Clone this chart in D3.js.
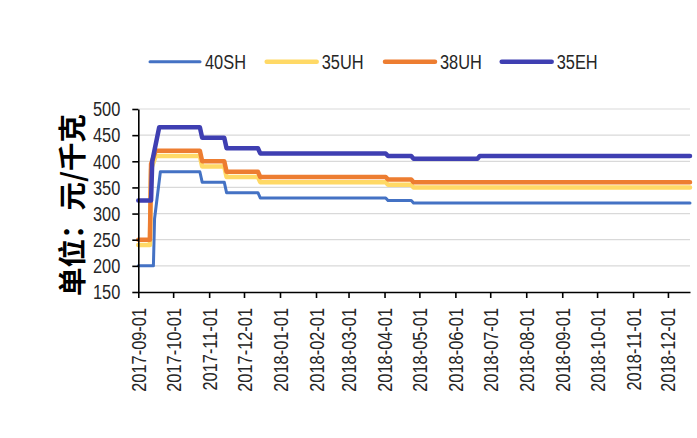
<!DOCTYPE html>
<html>
<head>
<meta charset="utf-8">
<script src="https://cdn.jsdelivr.net/npm/d3@7"></script>
<style>
  html, body { margin: 0; padding: 0; background: #fff; }
  svg { display: block; }
</style>
</head>
<body>
<svg id="chart" width="697" height="438"></svg>
<script>
// Series names, colours and stroke widths (legend order = draw order)
const seriesNames  = ["40SH", "35UH", "38UH", "35EH"];
const seriesColors = ["#4472C4", "#FFD966", "#ED7D31", "#3F3FB2"];
const seriesWidths = [3, 4.5, 4.5, 4.5];

// Price change points for each grade (元/千克)
const dates40SH = ["2017-09-01","2017-09-14","2017-09-15","2017-09-20","2017-10-24","2017-10-26","2017-11-14","2017-11-16","2017-12-13","2017-12-15","2018-04-02","2018-04-04","2018-04-24","2018-04-26","2018-12-20"];
const values40SH = [200, 200, 290, 380, 380, 360, 360, 340, 340, 330, 330, 325, 325, 320, 320];

const dates35UH = ["2017-09-01","2017-09-11","2017-09-12","2017-09-16","2017-10-24","2017-10-26","2017-11-14","2017-11-16","2017-12-13","2017-12-15","2018-04-02","2018-04-04","2018-04-24","2018-04-26","2018-12-20"];
const values35UH = [240, 240, 385, 410, 410, 390, 390, 370, 370, 360, 360, 355, 355, 350, 350];

const dates38UH = ["2017-09-01","2017-09-11","2017-09-12","2017-09-16","2017-10-24","2017-10-26","2017-11-14","2017-11-16","2017-12-13","2017-12-15","2018-04-02","2018-04-04","2018-04-24","2018-04-26","2018-12-20"];
const values38UH = [250, 250, 395, 420, 420, 400, 400, 380, 380, 370, 370, 365, 365, 360, 360];

const dates35EH = ["2017-09-01","2017-09-12","2017-09-13","2017-09-19","2017-10-24","2017-10-26","2017-11-14","2017-11-16","2017-12-13","2017-12-15","2018-04-02","2018-04-04","2018-04-24","2018-04-26","2018-06-20","2018-06-22","2018-12-20"];
const values35EH = [325, 325, 400, 465, 465, 445, 445, 425, 425, 415, 415, 410, 410, 405, 405, 410, 410];

// Axis ticks
const yTicks = [150, 200, 250, 300, 350, 400, 450, 500];
const xTickLabels = ["2017-09-01","2017-10-01","2017-11-01","2017-12-01","2018-01-01","2018-02-01","2018-03-01","2018-04-01","2018-05-01","2018-06-01","2018-07-01","2018-08-01","2018-09-01","2018-10-01","2018-11-01","2018-12-01"];
const xDomain = ["2017-09-01", "2018-12-20"];
const yTitle = "单位：元/千克";

const parse = d3.timeParse("%Y-%m-%d");
const fmt = d3.timeFormat("%Y-%m-%d");

const svg = d3.select("#chart");
const W = 697, H = 438;
const plot = { left: 138.3, right: 690, top: 109, bottom: 292 };

const latin = "'Liberation Sans', Arial, sans-serif";
const squeeze = 0.84;   // narrow face look
const textColor = "#262626";

svg.append("rect").attr("width", W).attr("height", H).attr("fill", "#fff");

const x = d3.scaleTime()
  .domain(xDomain.map(parse))
  .range([plot.left, plot.right]);

const y = d3.scaleLinear()
  .domain([150, 500])
  .range([plot.bottom, plot.top]);

// Horizontal gridlines
svg.append("g")
  .selectAll("line")
  .data(yTicks.filter(v => v !== 150))
  .join("line")
  .attr("x1", plot.left).attr("x2", plot.right)
  .attr("y1", d => y(d)).attr("y2", d => y(d))
  .attr("stroke", "#D9D9D9")
  .attr("stroke-width", 1.2);

// Series lines
const seriesData = [
  [dates40SH, values40SH],
  [dates35UH, values35UH],
  [dates38UH, values38UH],
  [dates35EH, values35EH]
];

const line = d3.line()
  .x(d => x(d[0]))
  .y(d => y(d[1]));

seriesData.forEach(([ds, vs], i) => {
  const pts = ds.map((d, k) => [parse(d), vs[k]]);
  svg.append("path")
    .datum(pts)
    .attr("d", line)
    .attr("fill", "none")
    .attr("stroke", seriesColors[i])
    .attr("stroke-width", seriesWidths[i])
    .attr("stroke-linejoin", "round")
    .attr("stroke-linecap", "round");
});

// Y axis
const yAxis = svg.append("g")
  .attr("transform", `translate(${plot.left},0)`)
  .call(d3.axisLeft(y).tickValues(yTicks).tickSize(6).tickSizeOuter(0).tickFormat(d3.format("d")));
yAxis.select(".domain").attr("stroke", "#000").attr("stroke-width", 1.6);
yAxis.selectAll(".tick line").attr("stroke", "#000").attr("stroke-width", 1.6);
yAxis.selectAll(".tick text")
  .attr("font-family", latin)
  .attr("font-size", 19.5)
  .attr("fill", textColor)
  .attr("x", -18 / squeeze)
  .attr("dy", "0.35em")
  .attr("transform", `scale(${squeeze},1)`);

// X axis
const xAxis = svg.append("g")
  .attr("transform", `translate(0,${plot.bottom})`)
  .call(d3.axisBottom(x).tickValues(xTickLabels.map(parse)).tickSize(6).tickSizeOuter(0).tickFormat(fmt));
xAxis.select(".domain").attr("stroke", "#000").attr("stroke-width", 1.6);
xAxis.selectAll(".tick line").attr("stroke", "#000").attr("stroke-width", 1.6);
xAxis.selectAll(".tick text")
  .attr("font-family", latin)
  .attr("font-size", 19.5)
  .attr("fill", textColor)
  .attr("text-anchor", "end")
  .attr("x", -16 / squeeze)
  .attr("y", 0)
  .attr("dy", "0.36em")
  .attr("transform", `rotate(-90) scale(${squeeze},1)`);

// Y axis title
svg.append("text")
  .attr("transform", "translate(70,205) rotate(-90)")
  .attr("text-anchor", "middle")
  .attr("dominant-baseline", "central")
  .attr("font-family", "'Noto Sans CJK SC', sans-serif")
  .attr("font-weight", "bold")
  .attr("font-size", 28.5)
  .attr("fill", "#000")
  .text(yTitle);

// Legend
const legendX = [150, 266.7, 385, 501.7];
const legendY = 61.7;
const legend = svg.append("g");
seriesNames.forEach((name, i) => {
  legend.append("line")
    .attr("x1", legendX[i]).attr("x2", legendX[i] + 50)
    .attr("y1", legendY).attr("y2", legendY)
    .attr("stroke", seriesColors[i])
    .attr("stroke-width", seriesWidths[i])
    .attr("stroke-linecap", "round");
  legend.append("text")
    .attr("transform", `translate(${legendX[i] + 55},${legendY + 7}) scale(${squeeze},1)`)
    .attr("font-family", latin)
    .attr("font-size", 19.5)
    .attr("fill", textColor)
    .text(name);
});
</script>
</body>
</html>
